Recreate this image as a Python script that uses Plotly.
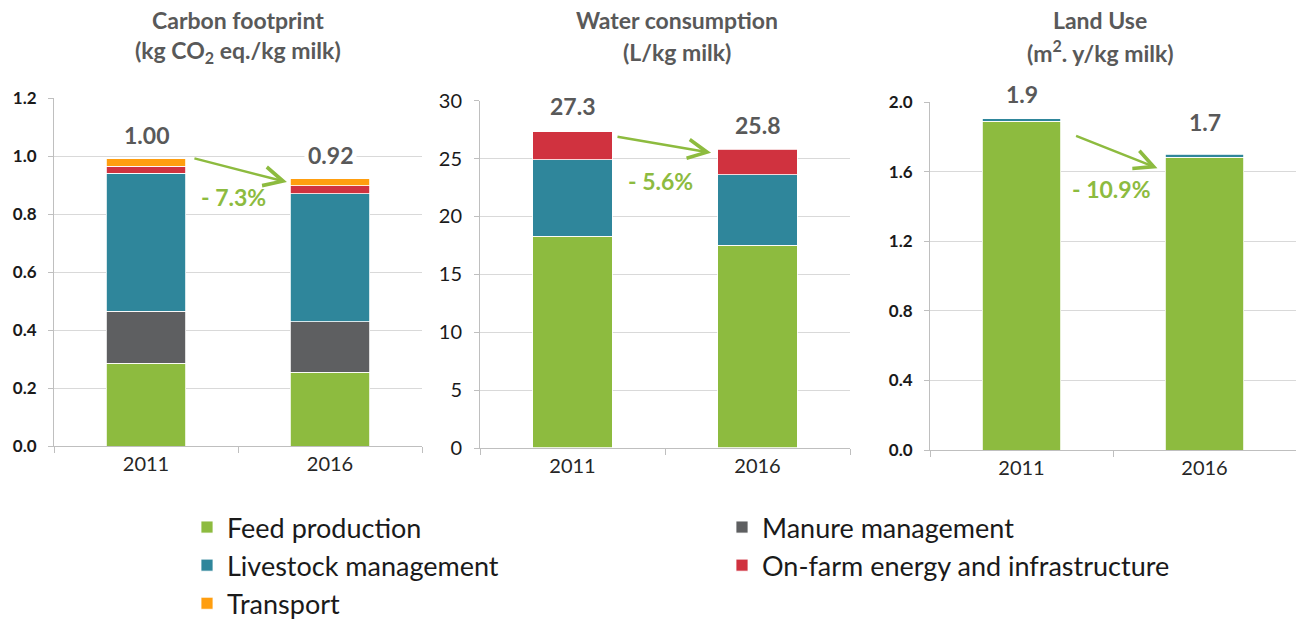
import plotly.graph_objects as go

# ---------------- data ----------------
years = ["2011", "2016"]

series_names = ["Feed production", "Manure management", "Livestock management",
                "On-farm energy and infrastructure", "Transport"]
series_colors = ["#8DBB3F", "#5E5F61", "#2F869B", "#D0323F", "#FF9E0F"]

# Carbon footprint (kg CO2 eq./kg milk)
cf_feed = [0.285, 0.255]
cf_manure = [0.180, 0.173]
cf_livestock = [0.475, 0.441]
cf_energy = [0.025, 0.029]
cf_transport = [0.026, 0.023]
cf_total_labels = ["1.00", "0.92"]
cf_change = "- 7.3%"

# Water consumption (L/kg milk)
wc_feed = [18.3, 17.5]
wc_livestock = [6.6, 6.1]
wc_energy = [2.4, 2.2]
wc_total_labels = ["27.3", "25.8"]
wc_change = "- 5.6%"

# Land use (m2.y/kg milk)
lu_feed = [1.89, 1.685]
lu_livestock = [0.015, 0.015]
lu_total_labels = ["1.9", "1.7"]
lu_change = "- 10.9%"

# ---------------- figure ----------------
W, H = 1298, 619
FONT = "Lato"
GREEN_TXT = "#8DBB3F"
TITLE_COL = "#595959"

fig = go.Figure()

panels = [
    dict(ax="", data={"Feed production": cf_feed, "Manure management": cf_manure,
                      "Livestock management": cf_livestock,
                      "On-farm energy and infrastructure": cf_energy, "Transport": cf_transport}),
    dict(ax="2", data={"Feed production": wc_feed, "Livestock management": wc_livestock,
                       "On-farm energy and infrastructure": wc_energy}),
    dict(ax="3", data={"Feed production": lu_feed, "Livestock management": lu_livestock}),
]

legend_of = {"Feed production": "legend", "Livestock management": "legend", "Transport": "legend",
             "Manure management": "legend2", "On-farm energy and infrastructure": "legend2"}

for pi, p in enumerate(panels):
    for name, col in zip(series_names, series_colors):
        if name not in p["data"]:
            continue
        fig.add_trace(go.Bar(
            x=years, y=p["data"][name], name=name,
            marker=dict(color=col, line=dict(color="white", width=0.8)),
            xaxis="x" + p["ax"], yaxis="y" + p["ax"],
            legendgroup=name, showlegend=(pi == 0), legend=legend_of[name],
            hoverinfo="x+y+name",
        ))

def px_x(px):
    return px / W

def px_y(py):
    return 1 - py / H

axis_common_x = dict(type="category", range=[-0.5, 1.5], autorange=False,
                     showline=True, linecolor="#BFBFBF", linewidth=1,
                     ticks="outside", ticklen=6, tickcolor="#BFBFBF", tickson="boundaries",
                     showgrid=False, tickfont=dict(family=FONT, size=20, color="#262626"),
                     tickangle=0, fixedrange=True, automargin=False)
axis_common_y = dict(showline=True, linecolor="#BFBFBF", linewidth=1, ticks="outside",
                     ticklen=5, tickcolor="#BFBFBF", showgrid=True, gridcolor="#D9D9D9",
                     gridwidth=1, zeroline=False, ticklabelstandoff=8, fixedrange=True,
                     autorange=False, automargin=False)

LEG_FONT = dict(family=FONT, size=27, color="#1A1A1A")

fig.update_layout(
    width=W, height=H, margin=dict(l=0, r=0, t=0, b=0, pad=0, autoexpand=False),
    paper_bgcolor="white", plot_bgcolor="white",
    barmode="stack", bargap=0.57,
    font=dict(family=FONT, color="#262626"),
    xaxis=dict(axis_common_x, domain=[px_x(54), px_x(422)], anchor="y"),
    yaxis=dict(axis_common_y, domain=[px_y(446), px_y(98)], range=[0, 1.2], dtick=0.2,
               tickformat=".1f", anchor="x",
               tickfont=dict(family=FONT, size=17, color="#1A1A1A", weight="bold")),
    xaxis2=dict(axis_common_x, domain=[px_x(480), px_x(850)], anchor="y2"),
    yaxis2=dict(axis_common_y, domain=[px_y(448), px_y(100.7)], range=[0, 30], dtick=5,
                anchor="x2", tickfont=dict(family=FONT, size=20, color="#1A1A1A")),
    xaxis3=dict(axis_common_x, domain=[px_x(930), px_x(1296)], anchor="y3"),
    yaxis3=dict(axis_common_y, domain=[px_y(450), px_y(102.3)], range=[0, 2.0], dtick=0.4,
                tickformat=".1f", anchor="x3",
                tickfont=dict(family=FONT, size=17, color="#1A1A1A", weight="bold")),
    legend=dict(x=px_x(187), y=px_y(503), xanchor="left", yanchor="top",
                orientation="v", traceorder="normal", tracegroupgap=6,
                font=LEG_FONT, bgcolor="rgba(0,0,0,0)"),
    legend2=dict(x=px_x(722), y=px_y(503), xanchor="left", yanchor="top",
                 orientation="v", traceorder="normal", tracegroupgap=6,
                 font=LEG_FONT, bgcolor="rgba(0,0,0,0)"),
    showlegend=True,
)

annotations = []

# Titles
titles = [
    (238, "Carbon footprint", "(kg CO<sub>2</sub> eq./kg milk)"),
    (677, "Water consumption", "(L/kg milk)"),
    (1100, "Land Use", "(m<sup>2</sup>. y/kg milk)"),
]
for cx, l1, l2 in titles:
    annotations.append(dict(x=px_x(cx), y=px_y(20), xref="paper", yref="paper", text=l1,
                            showarrow=False, xanchor="center", yanchor="middle",
                            font=dict(family=FONT, size=23, color=TITLE_COL, weight="bold")))
    annotations.append(dict(x=px_x(cx), y=px_y(52), xref="paper", yref="paper", text=l2,
                            showarrow=False, xanchor="center", yanchor="middle",
                            font=dict(family=FONT, size=23, color=TITLE_COL, weight="bold")))

# Totals above bars (x given as category index)
totals_cfg = [
    ("", [cf_feed, cf_manure, cf_livestock, cf_energy, cf_transport], cf_total_labels, [6, 6]),
    ("2", [wc_feed, wc_livestock, wc_energy], wc_total_labels, [8, 6]),
    ("3", [lu_feed, lu_livestock], lu_total_labels, [7, 14]),
]
for ax, comps, labels, shifts in totals_cfg:
    for i in range(len(years)):
        tot = sum(c[i] for c in comps)
        annotations.append(dict(x=i, y=tot, xref="x" + ax, yref="y" + ax, text=labels[i],
                                showarrow=False, xanchor="center", yanchor="bottom",
                                yshift=shifts[i], bgcolor="white", borderpad=3,
                                font=dict(family=FONT, size=23, color=TITLE_COL, weight="bold")))

# Arrows and change labels
arrows = [
    ("", (0.255, 0.993), (0.766, 0.910), cf_change, (0.478, 0.859)),
    ("2", (0.235, 26.9), (0.749, 25.5), wc_change, (0.478, 23.1)),
    ("3", (0.29, 1.81), (0.743, 1.621), lu_change, (0.49, 1.50)),
]
for ax, (x0, y0), (x1, y1), txt, (tx, ty) in arrows:
    annotations.append(dict(x=x1, y=y1, ax=x0, ay=y0, xref="x" + ax, yref="y" + ax,
                            axref="x" + ax, ayref="y" + ax, text="", showarrow=True,
                            arrowhead=5, arrowsize=1.5, arrowwidth=2.5, arrowcolor=GREEN_TXT))
    annotations.append(dict(x=tx, y=ty, xref="x" + ax, yref="y" + ax, text=txt,
                            showarrow=False, xanchor="center", yanchor="middle",
                            font=dict(family=FONT, size=23, color=GREEN_TXT, weight="bold")))

fig.update_layout(annotations=annotations)

fig.write_html("out.html", config={"displayModeBar": False},
               post_script="document.body.style.margin='0';document.body.style.overflow='hidden';")
